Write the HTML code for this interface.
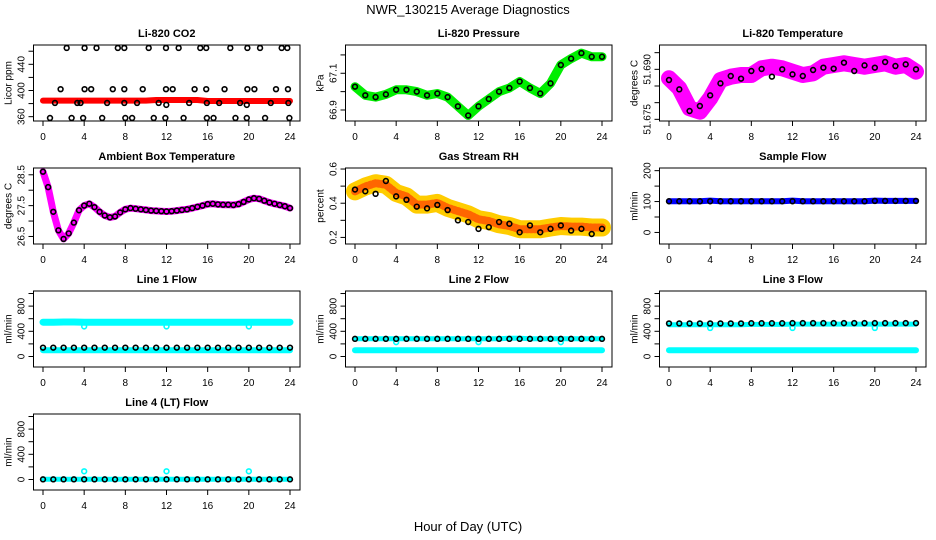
<!DOCTYPE html>
<html><head><meta charset="utf-8"><style>
html,body{margin:0;padding:0;background:#fff;}
svg{display:block;font-family:"Liberation Sans",Arial,sans-serif;}
</style></head><body>
<svg id="fig" width="936" height="540" viewBox="0 0 936 540" xmlns="http://www.w3.org/2000/svg">
<rect width="936" height="540" fill="#fff"/>
<text x="468" y="14" text-anchor="middle" font-size="13">NWR_130215  Average Diagnostics</text>
<text x="468" y="531" text-anchor="middle" font-size="13">Hour of Day (UTC)</text>
</svg>
<script>
const hours = [0,1,2,3,4,5,6,7,8,9,10,11,12,13,14,15,16,17,18,19,20,21,22,23,24];
const halfHours = [0,0.5,1,1.5,2,2.5,3,3.5,4,4.5,5,5.5,6,6.5,7,7.5,8,8.5,9,9.5,10,10.5,11,11.5,12,12.5,13,13.5,14,14.5,15,15.5,16,16.5,17,17.5,18,18.5,19,19.5,20,20.5,21,21.5,22,22.5,23,23.5,24];
const xTicks = [0,4,8,12,16,20,24];

// CO2
const co2Red = [384.5,384.5,384.5,384.5,384.5,384.5,384.5,384.5,384.5,384.5,384.5,385.5,385.5,385.5,385.5,385.5,384,384,384,384,384,384,384,384,384];
const co2HiHours = [2.3,4.04,5.2,7.27,7.9,10.27,11.95,13.18,15.28,15.86,18.2,19.86,21.09,23.19,23.74];
const co2HiVals = [465,465,465,465,465,465,465,465,465,465,465,465,465,465,465];
const co2MidHours = [1.71,4.04,4.68,6.78,7.9,9.69,11.95,12.6,14.73,15.86,17.64,19.86,20.54,22.64,23.8];
const co2MidVals = [402,402,402,402,402,402,402,402,402,402,402,402,402,402,402];
const co2LowHours = [1.16,3.33,3.65,6.23,7.9,9.14,11.24,11.98,14.2,15.92,17.12,19.15,19.8,22.13,23.84];
const co2LowVals = [381,381,381,381,381,381,381,378,381,381,381,381,378,381,381];
const co2MinHours = [0.68,2.78,3.9,5.75,8.0,8.66,10.76,11.89,13.66,15.92,16.57,18.7,19.8,21.58,23.94];
const co2MinVals = [358,358,358,358,358,358,358,358,358,358,358,358,358,358,358];
// Pressure
const pressVals = [67.027,66.98,66.97,66.985,67.01,67.01,67.0,66.98,66.99,66.97,66.92,66.87,66.92,66.96,67.0,67.02,67.055,67.02,66.99,67.045,67.145,67.18,67.21,67.19,67.19];
// Li-820 temperature
const liTempVals = [51.6873,51.6843,51.6783,51.6773,51.6813,51.6868,51.6878,51.6883,51.6883,51.6903,51.6908,51.6903,51.6893,51.6883,51.6888,51.6908,51.6913,51.6918,51.6913,51.6908,51.6913,51.6918,51.6908,51.6913,51.6893];
const liTempDots = [51.6868,51.6840,51.6775,51.6790,51.6822,51.6858,51.6880,51.6872,51.6895,51.6901,51.6878,51.6900,51.6885,51.6880,51.6898,51.6905,51.6902,51.6920,51.6895,51.6912,51.6905,51.6922,51.6910,51.6915,51.6900];
// Ambient
const ambVals = [28.6,28.1,27.3,26.7,26.42,26.6,26.95,27.35,27.5,27.56,27.45,27.3,27.18,27.12,27.15,27.28,27.38,27.42,27.4,27.38,27.36,27.34,27.33,27.32,27.31,27.32,27.34,27.36,27.38,27.42,27.46,27.5,27.55,27.56,27.54,27.53,27.53,27.52,27.55,27.62,27.7,27.74,27.72,27.66,27.6,27.56,27.52,27.48,27.42];
// RH
const rhVals = [0.469,0.498,0.517,0.508,0.46,0.44,0.392,0.392,0.402,0.373,0.354,0.335,0.306,0.296,0.277,0.267,0.248,0.248,0.248,0.258,0.267,0.263,0.263,0.258,0.258];
const rhDots = [0.48,0.47,0.455,0.53,0.44,0.42,0.38,0.37,0.39,0.36,0.30,0.29,0.25,0.26,0.29,0.28,0.23,0.27,0.23,0.25,0.27,0.24,0.25,0.22,0.25];
// Sample flow
const sampleBlue = [101,101,101,101,103,101,101,101,101,101,101,101,103,101,101,101,101,101,101,101,103,102,102,102,102];
const sampleBlack = [101,101,101,101,101,101,101,101,101,101,101,101,101,101,101,101,101,101,101,101,102,102,102,102,102];
// Line flows
const line1CyanHi = [545,545,548,548,545,545,545,545,545,545,545,545,545,545,545,545,545,545,545,545,545,545,545,545,545];
const line1CyanLo = [100,100,100,100,100,100,100,100,100,100,100,100,100,100,100,100,100,100,100,100,100,100,100,100,100];
const line1Black = [140,140,140,140,140,140,140,140,140,140,140,140,140,140,140,140,140,140,140,140,140,140,140,140,140];
const line2CyanHi = [281,281,281,281,281,281,281,281,281,281,281,281,281,281,281,290,290,281,281,281,281,281,281,281,281];
const line2CyanLo = [98,98,98,98,98,98,98,98,98,98,98,98,98,98,98,98,98,98,98,98,98,98,98,98,98];
const line2Black = [280,280,280,280,280,280,280,280,280,280,280,280,280,280,280,280,280,280,280,280,280,280,280,280,280];
const line3CyanHi = [505,505,505,505,505,505,505,505,510,510,510,510,515,515,515,515,515,515,515,515,515,515,515,515,515];
const line3CyanLo = [98,98,98,98,98,98,98,98,98,98,98,98,98,98,98,98,98,98,98,98,98,98,98,98,98];
const line3Black = [525,525,525,525,525,525,525,525,528,528,528,528,530,530,530,530,530,530,530,530,530,530,530,530,530];
const line4Cyan = [5,5,5,5,5,5,5,5,5,5,5,5,5,5,5,5,5,5,5,5,5,5,5,5,5];
const line4Black = [2,2,2,2,2,2,2,2,2,2,2,2,2,2,2,2,2,2,2,2,2,2,2,2,2];
const spikeHours = [4,12,20];
const line1Spikes = [478,478,478];
const line2Spikes = [228,228,228];
const line3Spikes = [453,453,453];
const line4Spikes = [130,130,130];

const NS = "http://www.w3.org/2000/svg";
const svg = document.getElementById('fig');
function mk(tag, attrs, parent){
  const e = document.createElementNS(NS, tag);
  for (const k in attrs) e.setAttribute(k, attrs[k]);
  (parent||svg).appendChild(e);
  return e;
}
const rowTops = [45,168,291,414];
function makePanel(col,row,title,ylab,dom,ticks,labels,labelFmt,name){
  const cx = col*312 + (col===2?2:0);
  const top = rowTops[row], bottom = top+76;
  const left = cx+33.5, right = cx+300;
  const g = mk('g',{});
  
  
  const p = {g, top, bottom, left, right,
    x: h => cx+43 + h*(247/24),
    y: v => bottom - (v-dom[0])/(dom[1]-dom[0])*(bottom-top)};
  const box = mk('rect',{x:left,y:top,width:right-left,height:bottom-top,fill:'none',stroke:'#000','stroke-width':1},g);
  
  
  const t = mk('text',{x:(left+right)/2,y:top-8,'text-anchor':'middle','font-size':11,'font-weight':'bold'},g);
  t.textContent = title;
  
  
  // x axis
  const xa = mk('g',{},g);
  
  
  mk('line',{x1:p.x(0),x2:p.x(24),y1:bottom,y2:bottom,stroke:'#000'},xa);
  xTicks.forEach(h=>{
    mk('line',{x1:p.x(h),x2:p.x(h),y1:bottom,y2:bottom+5,stroke:'#000'},xa);
    const tl = mk('text',{x:p.x(h),y:bottom+19,'text-anchor':'middle','font-size':10},xa);
    tl.textContent = h;
  });
  // y axis
  const ya = mk('g',{},g);
  
  
  mk('line',{x1:left,x2:left,y1:p.y(ticks[0]),y2:p.y(ticks[ticks.length-1]),stroke:'#000'},ya);
  ticks.forEach(v=>{ mk('line',{x1:left-5,x2:left,y1:p.y(v),y2:p.y(v),stroke:'#000'},ya); });
  labels.forEach(v=>{
    const yy = p.y(v);
    const tl = mk('text',{x:left-9,y:yy,'text-anchor':'middle','font-size':10,transform:`rotate(-90 ${left-9} ${yy})`},ya);
    tl.textContent = labelFmt(v);
  });
  const yt = mk('text',{x:left-22,y:(top+bottom)/2,'text-anchor':'middle','font-size':10,transform:`rotate(-90 ${left-22} ${(top+bottom)/2})`},g);
  yt.textContent = ylab;
  
  
  return p;
}
function band(p, xs, ys, color, w, name){
  const pts = xs.map((h,i)=>p.x(h).toFixed(1)+','+p.y(ys[i]).toFixed(1)).join(' ');
  const pl = mk('polyline',{points:pts,fill:'none',stroke:color,'stroke-width':w,'stroke-linejoin':'round','stroke-linecap':'round'},p.g);
  
  
  return pl;
}
function dots(p, xs, ys, color, name){
  const g = mk('g',{},p.g);
  
  
  xs.forEach((h,i)=>{
    mk('circle',{cx:p.x(h),cy:p.y(ys[i]),r:2.4,fill:'none',stroke:color,'stroke-width':1.6},g);
  });
}
const f0 = v=>String(v);
const f1 = v=>v.toFixed(1);

// Panels
const pCO2 = makePanel(0,0,'Li-820 CO2','Licor ppm',[353.4,469.5],[360,380,400,420,440,460],[360,400,440],f0,'co2');
band(pCO2, hours, co2Red, '#ff0000', 6, 'co2-red-series');
dots(pCO2, co2HiHours, co2HiVals, '#000', 'co2-high-points');
dots(pCO2, co2MidHours, co2MidVals, '#000', 'co2-mid-points');
dots(pCO2, co2LowHours, co2LowVals, '#000', 'co2-low-points');
dots(pCO2, co2MinHours, co2MinVals, '#000', 'co2-min-points');

const pP = makePanel(1,0,'Li-820 Pressure','kPa',[66.84,67.254],[66.9,67.0,67.1,67.2],[66.9,67.1],f1,'pressure');
band(pP, hours, pressVals, '#00ee00', 9, 'pressure-green-series');
dots(pP, hours, pressVals, '#000', 'pressure-points');

const pT = makePanel(2,0,'Li-820 Temperature','degrees C',[51.6745,51.6973],[51.675,51.68,51.685,51.69,51.695],[51.675,51.690],v=>v.toFixed(3),'li-temp');
band(pT, hours, liTempVals, '#ff00ff', 16, 'li-temp-magenta-series');
dots(pT, hours, liTempDots, '#000', 'li-temp-points');

const pA = makePanel(0,1,'Ambient Box Temperature','degrees C',[26.256,28.72],[26.5,27,27.5,28,28.5],[26.5,27.5,28.5],f1,'ambient');
band(pA, halfHours, ambVals, '#ff00ff', 7, 'ambient-magenta-series');
dots(pA, halfHours, ambVals, '#000', 'ambient-points');

const pR = makePanel(1,1,'Gas Stream RH','percent',[0.1615,0.606],[0.2,0.3,0.4,0.5,0.6],[0.2,0.4,0.6],f1,'rh');
band(pR, hours, rhVals, '#ffcc00', 18, 'rh-yellow-series');
band(pR, hours, rhVals, '#ff6600', 8, 'rh-orange-series').setAttribute('stroke-dasharray','2 2');
dots(pR, hours, rhDots, '#000', 'rh-points');

const pS = makePanel(2,1,'Sample Flow','ml/min',[-37.4,208.6],[0,50,100,150,200],[0,100,200],f0,'sample-flow');
band(pS, hours, sampleBlue, '#0000ff', 6, 'sample-flow-blue-series');
dots(pS, hours, sampleBlack, '#000', 'sample-flow-points');

const flowTicks=[0,200,400,600,800,1000], flowLabels=[0,400,800], flowDom=[-167,1040];
const p1 = makePanel(0,2,'Line 1 Flow','ml/min',flowDom,flowTicks,flowLabels,f0,'line1-flow');
band(p1, hours, line1CyanHi, '#00ffff', 7, 'line1-cyan-high');
band(p1, hours, line1CyanLo, '#00ffff', 6, 'line1-cyan-low');
dots(p1, spikeHours, line1Spikes, '#00ffff', 'line1-cyan-spikes');
dots(p1, hours, line1Black, '#000', 'line1-points');

const p2 = makePanel(1,2,'Line 2 Flow','ml/min',flowDom,flowTicks,flowLabels,f0,'line2-flow');
band(p2, hours, line2CyanHi, '#00ffff', 5, 'line2-cyan-high');
band(p2, hours, line2CyanLo, '#00ffff', 6, 'line2-cyan-low');
dots(p2, spikeHours, line2Spikes, '#00ffff', 'line2-cyan-spikes');
dots(p2, hours, line2Black, '#000', 'line2-points');

const p3 = makePanel(2,2,'Line 3 Flow','ml/min',flowDom,flowTicks,flowLabels,f0,'line3-flow');
band(p3, hours, line3CyanHi, '#00ffff', 5, 'line3-cyan-high');
band(p3, hours, line3CyanLo, '#00ffff', 6, 'line3-cyan-low');
dots(p3, spikeHours, line3Spikes, '#00ffff', 'line3-cyan-spikes');
dots(p3, hours, line3Black, '#000', 'line3-points');

const p4 = makePanel(0,3,'Line 4 (LT) Flow','ml/min',flowDom,flowTicks,flowLabels,f0,'line4-flow');
band(p4, hours, line4Cyan, '#00ffff', 5, 'line4-cyan');
dots(p4, spikeHours, line4Spikes, '#00ffff', 'line4-cyan-spikes');
dots(p4, hours, line4Black, '#000', 'line4-points');
</script>
</body></html>
